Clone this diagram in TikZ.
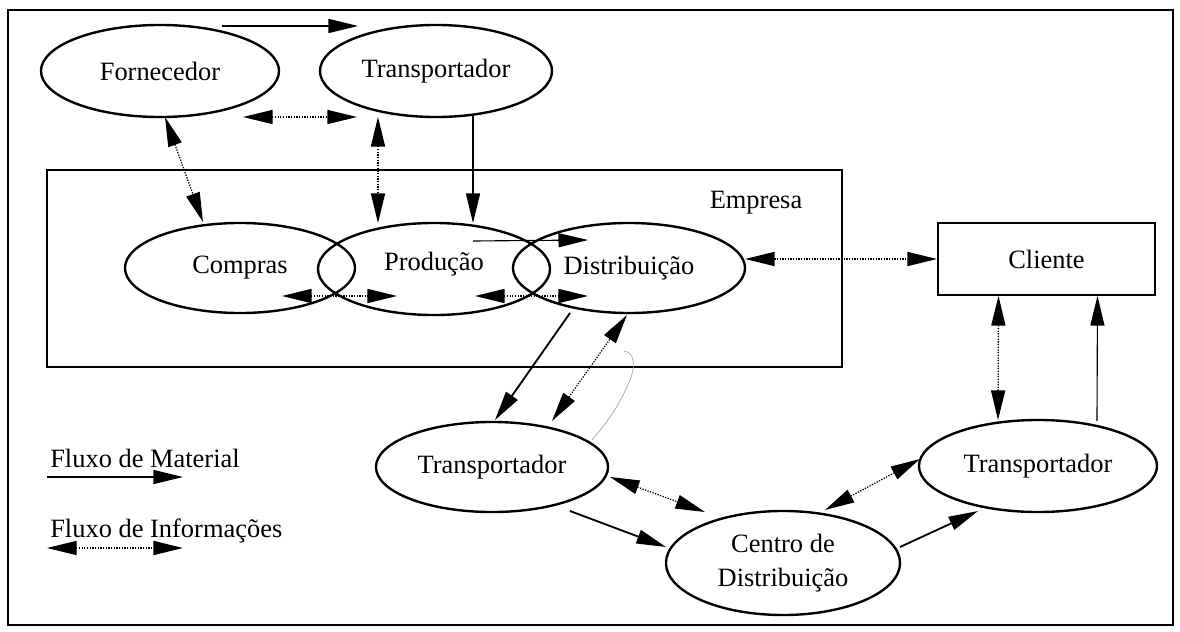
\documentclass[tikz,border=0pt]{standalone}
\usepackage{fontspec}
\setmainfont{Liberation Serif}
\usetikzlibrary{arrows.meta,shapes.geometric,calc}

\tikzset{
    setor/.style={draw, ellipse, line width=1.7pt, inner sep=0pt, outer sep=0pt},
    material/.style={->, line width=0.8pt},
    materialgrosso/.style={->, line width=1.3pt},
    informacao/.style={<->, densely dotted, line width=0.9pt},
}

\begin{document}
\begin{tikzpicture}[x=0.025cm, y=-0.025cm, >={Triangle[length=21pt,width=10pt]},
    font=\fontsize{18.8}{24}\selectfont]
        \useasboundingbox (0,0) rectangle (1180,632);
        \draw[line width=1.3pt] (8,10) rectangle (1173,625);

        % empresa
        \draw[line width=1.4pt] (47,170) rectangle (842,367);
        \node (empresa) at (756,203) {Empresa};

        \node[setor, minimum width=5.95cm, minimum height=2.3cm] (forn) at (160,71) {Fornecedor\hspace{0.5cm}};
        \node[setor, minimum width=5.8cm, minimum height=2.3cm] (trans1) at (436,71) {Transportador};
        \node[setor, minimum width=5.75cm, minimum height=2.25cm] (compras) at (240,268) {Compras\hspace{1.3cm}};
        \node[setor, minimum width=5.8cm, minimum height=2.3cm] (prod) at (434,269) {\raisebox{0.4cm}{Produção}};
        \node[setor, minimum width=5.8cm, minimum height=2.25cm] (dist) at (629,268) {Distribuição};
        \node[draw, line width=1.4pt, minimum width=5.425cm, minimum height=1.8cm, inner sep=0pt] (cliente) at (1046.5,259) {Cliente};
        \node[setor, minimum width=5.8cm, minimum height=2.25cm] (trans2) at (492,467) {Transportador};
        \node[setor, align=center, minimum width=5.85cm, minimum height=2.6cm] (centro) at (783,563) {Centro de\\Distribuição};
        \node[setor, minimum width=5.95cm, minimum height=2.3cm] (trans3) at (1038,466) {Transportador};

        \draw[material] ($(forn.north)+(62,1)$) -- ($(trans1.north)+(-78,1)$);
        \draw[informacao] ($(forn.south)+(83,0)$) -- ($(trans1.south)+(-79,0)$);
        \draw[informacao] ($(forn.south)+(5,0)$) -- ($(compras.north)+(-37,-1)$);
        \draw[informacao] ($(trans1.south)+(-58,0)$) -- ($(prod.north)+(-56,0)$);
        \draw[material] ($(trans1.south)+(37,-2)$) -- ($(prod.north)+(39,0)$);

        \draw[material] ($(prod.center)+(39,-28)$) -- ($(dist.center)+(-41,-28)$);
        \draw[informacao] ($(compras.center)+(42,28)$) -- ($(prod.center)+(-37,27)$);
        \draw[informacao] ($(prod.center)+(41,27)$) -- ($(dist.center)+(-41,28)$);
        \draw[informacao] ($(dist.east)+(0,-9)$) -- (cliente.west);

        \draw[informacao] ($(cliente.south)+(-48,0)$) -- ($(trans3.north)+(-40,0)$);
        \draw[material] ($(trans3.north)+(59,1)$) -- ($(cliente.south)+(51,0)$);

        \draw[materialgrosso] ($(dist.south)+(-59,0)$) -- ($(trans2.north)+(3,-2)$);
        \draw[informacao] ($(trans2.north)+(60,-1)$) -- ($(dist.south)+(-2,2)$);
        \draw[gray!70, line width=0.5pt] (624,351) .. controls (634,352) and (636,365) .. (630,380)
            .. controls (620,405) and (605,425) .. (592,440);

        \draw[informacao] ($(trans2.east)+(2,10)$) -- ($(centro.center)+(-78,-51)$);
        \draw[materialgrosso] ($(trans2.center)+(78,44)$) -- ($(centro.west)+(0,-16)$);
        \draw[informacao] ($(centro.north)+(42,-1)$) -- ($(trans3.west)+(1,-7)$);
        \draw[materialgrosso] ($(centro.east)+(0,-16)$) -- ($(trans3.south)+(-60,-1)$);

        % legenda
        \node[anchor=base west, inner sep=0pt] (legmat) at (50,467) {Fluxo de Material};
        \node[anchor=base west, inner sep=0pt] (leginf) at (50,537) {Fluxo de Informações};
        \coordinate (lm) at (47,477);
        \coordinate (li) at (47,548);
        \draw[material] (lm) -- ++(136,0);
        \draw[informacao] (li) -- ++(136,0);
\end{tikzpicture}
\end{document}
